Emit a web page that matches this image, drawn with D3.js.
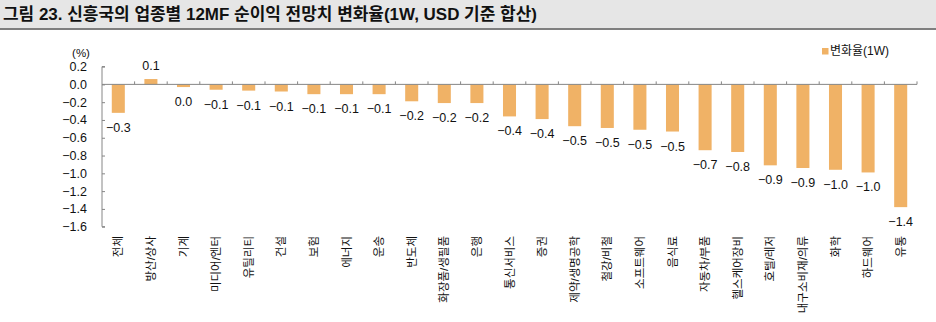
<!DOCTYPE html>
<html><head><meta charset="utf-8">
<script src="https://cdn.jsdelivr.net/npm/d3@7"></script>
<style>
html,body{margin:0;padding:0;background:#fff;}
svg{display:block;}
text{font-family:"Liberation Sans","Noto Sans CJK KR",Arial,sans-serif;fill:#111;}
</style></head>
<body>
<svg id="c" width="936" height="322"></svg>
<script>
const title = "그림 23. 신흥국의 업종별 12MF 순이익 전망치 변화율(1W, USD 기준 합산)";
const categories = ["전체","방산/상사","기계","미디어/엔터","유틸리티","건설","보험","에너지","운송","반도체","화장품/생필품","은행","통신서비스","증권","제약/생명공학","철강/비철","소프트웨어","음식료","자동차/부품","헬스케어장비","호텔/레저","내구소비재/의류","화학","하드웨어","유통"];
const values = [-0.32,0.06,-0.03,-0.06,-0.07,-0.08,-0.11,-0.11,-0.11,-0.19,-0.21,-0.21,-0.36,-0.39,-0.47,-0.49,-0.51,-0.53,-0.74,-0.76,-0.91,-0.94,-0.96,-0.99,-1.38];
const yTicks = [0.2,0.0,-0.2,-0.4,-0.6,-0.8,-1.0,-1.2,-1.4,-1.6];
const seriesName = "변화율(1W)";
const unitLabel = "(%)";

const svg = d3.select("#c");
const barColor = "#F0B266";
const axisColor = "#868686";

// title band
svg.append("rect").attr("x",0).attr("y",0).attr("width",936).attr("height",28).attr("fill","#e6e6e6");
svg.append("rect").attr("x",0).attr("y",28).attr("width",936).attr("height",2).attr("fill","#7f7f7f");
const t = svg.append("text").attr("x",3).attr("y",20).attr("font-size",16).attr("font-weight","bold").text(title);
const tw = t.node().getComputedTextLength();
t.attr("font-size", 16*534/tw);

const x = d3.scaleBand().domain(categories).range([102,917]).paddingInner(0.6).paddingOuter(0.3);
const y = d3.scaleLinear().domain([-1.6,0.2]).range([226.7,66.6]);

// bars
svg.append("g").selectAll("rect").data(values).join("rect")
  .attr("x",(d,i)=>x(categories[i]))
  .attr("width",x.bandwidth())
  .attr("y",d=>y(Math.max(0,d)))
  .attr("height",d=>Math.abs(y(d)-y(0)))
  .attr("fill",barColor);

// y axis
const yAxis = d3.axisRight(y).tickValues(yTicks).tickSize(3).tickFormat("");
const gy = svg.append("g").attr("transform","translate(102,0)").call(yAxis);
gy.select(".domain").attr("stroke",axisColor).attr("d",`M3,${y(0.2)}H0V${y(-1.6)}H3`);
gy.selectAll(".tick line").attr("stroke",axisColor);
const fmt = d3.format(".1f");
const f1 = v => { const s = fmt(v); return (s==="−0.0"||s==="-0.0")?"0.0":s; };
svg.append("g").selectAll("text").data(yTicks).join("text")
  .attr("x",87).attr("y",d=>y(d)).attr("dy","0.36em").attr("text-anchor","end")
  .attr("font-size",12.5).text(f1);
svg.append("text").attr("x",81).attr("y",53).attr("dy","0.36em").attr("text-anchor","middle").attr("font-size",11.5).text(unitLabel);

// x axis at zero
const gx = svg.append("g").attr("transform",`translate(0,${y(0)})`);
gx.append("line").attr("x1",102).attr("x2",917).attr("stroke",axisColor);
const bounds = categories.map(c=>x(c)-x.step()*x.paddingInner()/2 + x.step());
gx.selectAll("line.tk").data(bounds).join("line").attr("class","tk")
  .attr("x1",d=>d).attr("x2",d=>d).attr("y1",0).attr("y2",-3).attr("stroke",axisColor);

// value labels
svg.append("g").selectAll("text").data(values).join("text")
  .attr("x",(d,i)=>x(categories[i])+x.bandwidth()/2)
  .attr("y",d=> d>=0 ? y(d)-14 : y(d)+14.5)
  .attr("dy","0.36em").attr("text-anchor","middle").attr("font-size",12.5)
  .text(f1);

// category labels
svg.append("g").selectAll("text").data(categories).join("text")
  .attr("transform",d=>`translate(${x(d)+x.bandwidth()/2},236) rotate(-90)`)
  .attr("dy","0.36em").attr("text-anchor","end").attr("font-size",11.5)
  .text(d=>d);

// legend
svg.append("rect").attr("x",822).attr("y",48).attr("width",6.5).attr("height",6.5).attr("fill",barColor);
svg.append("text").attr("x",830).attr("y",51).attr("dy","0.36em").attr("font-size",12).text(seriesName);
</script>
</body></html>
